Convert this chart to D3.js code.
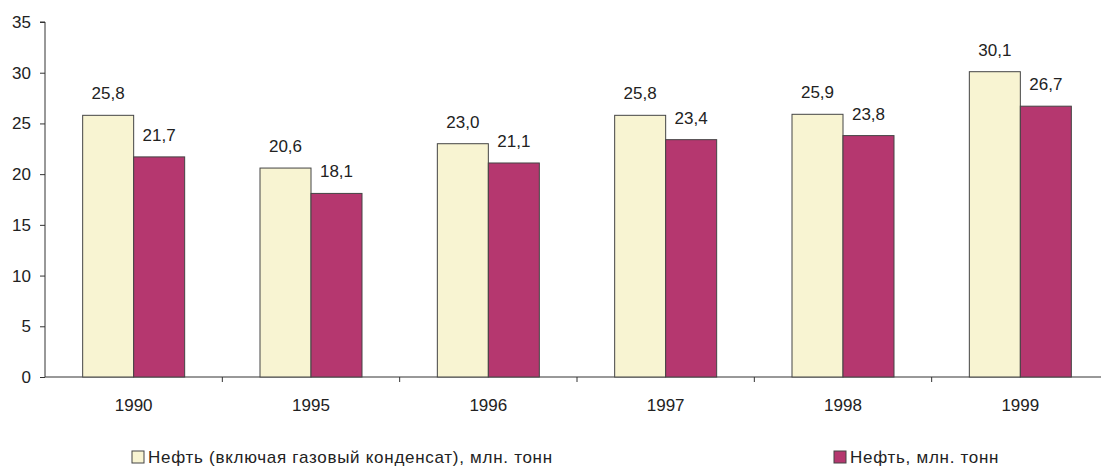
<!DOCTYPE html>
<html>
<head>
<meta charset="utf-8">
<script src="https://cdn.jsdelivr.net/npm/d3@7"></script>
<style>
  body { margin: 0; background: #fff; }
  svg text { font-family: Arial, "Liberation Sans", sans-serif; fill: #222; }
</style>
</head>
<body>
<svg id="grafico"></svg>
<script>
var anos = ['1990', '1995', '1996', '1997', '1998', '1999'];
var nefteKondensat = [25.8, 20.6, 23.0, 25.8, 25.9, 30.1];
var neft = [21.7, 18.1, 21.1, 23.4, 23.8, 26.7];
var series = ['Нефть (включая газовый конденсат), млн. тонн', 'Нефть, млн. тонн'];
var yTicks = [0, 5, 10, 15, 20, 25, 30, 35];

var largura = 1101, altura = 468;
var svg = d3.select('#grafico').attr('width', largura).attr('height', altura);

var margem = { esquerda: 45, superior: 22, inferior: 91 };
var base = altura - margem.inferior; // 377

var x = d3.scaleBand().domain(anos).range([margem.esquerda, 1109]);
var serie = d3.scaleBand().domain([0, 1]).range([0, 102]);
var y = d3.scaleLinear().domain([0, 35]).range([base, margem.superior]);
var cores = ['#f8f4d2', '#b5376f'];

// eixo Y
var eixoY = svg.append('g')
  .attr('transform', 'translate(' + margem.esquerda + ',0)')
  .call(d3.axisLeft(y).tickValues(yTicks).tickSize(5).tickPadding(9).tickFormat(d3.format('d')));
eixoY.select('.domain').attr('stroke', '#333').attr('d', 'M-5,' + y(35) + 'H0V' + y(0));
eixoY.selectAll('line').attr('stroke', '#333');
eixoY.selectAll('text').style('font-size', '17px').attr('fill', '#222');

// eixo X
var eixoX = svg.append('g').attr('transform', 'translate(0,' + base + ')');
eixoX.append('line').attr('x1', margem.esquerda).attr('x2', largura).attr('stroke', '#333');
eixoX.selectAll('.tick')
  .data(anos.slice(1))
  .enter().append('line')
  .attr('x1', d => x(d)).attr('x2', d => x(d))
  .attr('y1', 0).attr('y2', 5).attr('stroke', '#333');
eixoX.selectAll('.ano')
  .data(anos)
  .enter().append('text')
  .attr('x', d => x(d) + x.bandwidth() / 2)
  .attr('y', 33.5)
  .attr('text-anchor', 'middle')
  .style('font-size', '17px')
  .text(d => d);

// barras
var dados = [];
anos.forEach(function (a, i) {
  dados.push({ ano: a, s: 0, v: nefteKondensat[i] });
  dados.push({ ano: a, s: 1, v: neft[i] });
});
var desloc = (x.bandwidth() - serie.range()[1]) / 2;

svg.selectAll('.barra')
  .data(dados)
  .enter().append('rect')
  .attr('x', d => x(d.ano) + desloc + serie(d.s))
  .attr('y', d => y(d.v))
  .attr('width', serie.bandwidth())
  .attr('height', d => base - y(d.v))
  .attr('fill', d => cores[d.s])
  .attr('stroke', '#444')
  .attr('stroke-width', 1);

svg.selectAll('.rotulo')
  .data(dados)
  .enter().append('text')
  .attr('x', d => x(d.ano) + desloc + serie(d.s) + serie.bandwidth() / 2)
  .attr('y', d => y(d.v) - 16)
  .attr('text-anchor', 'middle')
  .style('font-size', '17px')
  .text(d => d3.format('.1f')(d.v).replace('.', ','));

// legenda
var legX = [132, 834];
var leg = svg.selectAll('.legenda')
  .data(series)
  .enter().append('g')
  .attr('transform', (d, i) => 'translate(' + legX[i] + ',451)');
leg.append('rect')
  .attr('width', 12).attr('height', 12)
  .attr('fill', (d, i) => cores[i])
  .attr('stroke', '#444');
leg.append('text')
  .attr('x', 16).attr('y', 12)
  .style('font-size', '17px')
  .style('letter-spacing', '0.72px')
  .text(d => d);
</script>
</body>
</html>
